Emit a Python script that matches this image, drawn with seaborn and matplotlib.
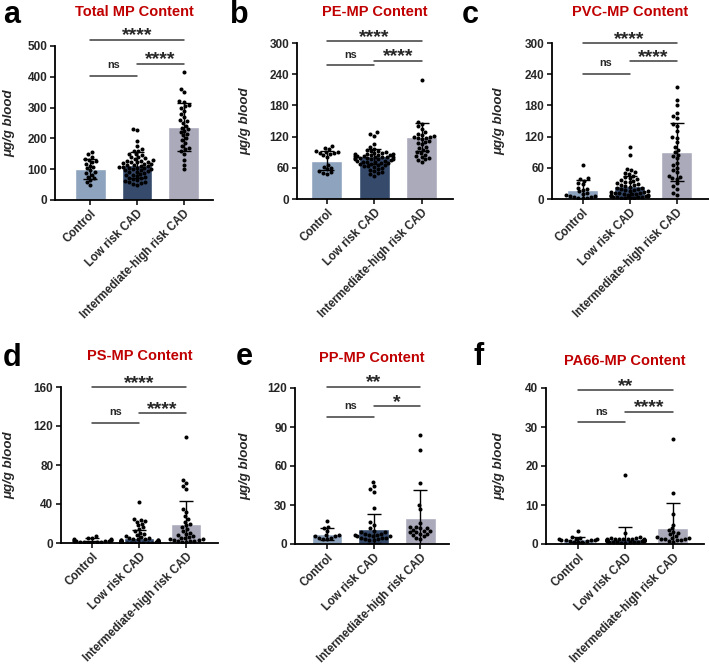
import pandas as pd
import seaborn as sns
import matplotlib.pyplot as plt

# groups and colours
groups = ["Control", "Low risk CAD", "Intermediate-high risk CAD"]
bar_colors = ["#8ea4be", "#364b6c", "#aaaabb"]

titles = ["Total MP Content", "PE-MP Content", "PVC-MP Content",
          "PS-MP Content", "PP-MP Content", "PA66-MP Content"]
letters = ["a", "b", "c", "d", "e", "f"]

# bar heights (mean) and error bars (SD)
means = [[100, 114, 237], [74, 82, 119], [18, 24.5, 90],
         [3.4, 5, 19], [7.4, 11.8, 20], [1.2, 1.2, 4.2]]
sds = [[33, 43, 77], [19, 15, 27], [19, 20.5, 56],
       [1.6, 8, 24], [4.6, 11.2, 21.8], [0.7, 3.2, 6.4]]

# individual points
a_ctrl = [155, 148, 140, 132, 130, 127, 122, 118, 112, 107, 103, 98, 92, 88, 82, 76, 70, 65, 57, 50]
a_low = [230, 228, 190, 175, 165, 160, 158, 150, 148, 145, 140, 138, 135, 132, 130, 128, 127, 125,
         124, 122, 120, 118, 117, 115, 114, 112, 110, 108, 107, 105, 104, 103, 102, 100, 98, 96, 95,
         92, 90, 88, 85, 82, 80, 78, 75, 72, 70, 68, 65, 62, 60, 58, 55, 52, 50]
a_int = [415, 360, 350, 320, 318, 310, 305, 300, 290, 280, 270, 260, 255, 250, 240, 235, 230, 225,
         220, 215, 210, 200, 195, 185, 175, 170, 165, 160, 150, 130, 115, 100]

b_ctrl = [101, 98, 96, 93, 91, 90, 89, 88, 86, 84, 80, 65, 62, 60, 57, 53, 51, 50, 49]
b_low = [128, 125, 122, 105, 100, 97, 95, 93, 92, 90, 89, 88, 87, 86, 86, 85, 85, 84, 83, 82, 82,
         81, 81, 80, 80, 79, 78, 78, 77, 77, 76, 76, 75, 74, 73, 72, 72, 71, 70, 69, 68, 67, 66, 65,
         64, 63, 62, 60, 58, 56, 54, 52, 50, 48, 45]
b_int = [228, 148, 145, 140, 135, 128, 125, 123, 121, 120, 119, 118, 117, 115, 112, 110, 108, 105,
         100, 98, 95, 92, 90, 88, 85, 82, 80, 78, 76, 75, 72]

c_ctrl = [65, 40, 38, 35, 30, 28, 22, 20, 18, 15, 12, 10, 8, 6, 5, 4, 3, 2, 2, 1]
c_low = [100, 85, 58, 55, 52, 50, 48, 45, 42, 40, 38, 36, 35, 33, 32, 30, 28, 27, 26, 25, 24, 22,
         21, 20, 19, 18, 17, 16, 15, 14, 13, 12, 12, 11, 10, 10, 9, 8, 8, 7, 6, 6, 5, 5, 4, 4, 3, 3,
         2, 2, 1, 1]
c_int = [215, 190, 180, 165, 160, 155, 145, 140, 130, 120, 118, 110, 100, 95, 90, 85, 82, 78, 70,
         65, 60, 55, 52, 45, 42, 40, 38, 30, 25, 20, 12, 8]

d_ctrl = [7, 5, 5, 4, 4, 3, 3, 3, 2, 2, 2, 2, 1, 1, 1, 1, 0.5, 0.5]
d_low = [42, 25, 24, 23, 22, 20, 18, 16, 14, 12, 10, 9, 8, 7, 6, 5, 5, 4, 4, 4, 3, 3, 3, 3, 2, 2,
         2, 2, 2, 2, 1.5, 1.5, 1.5, 1.5, 1, 1, 1, 1, 1, 1, 1, 0.8, 0.8, 0.8, 0.6, 0.6, 0.6, 0.5,
         0.5, 0.4, 0.4, 0.3, 0.3, 0.2, 0.2]
d_int = [109, 65, 62, 58, 55, 35, 32, 28, 25, 22, 20, 18, 16, 14, 12, 10, 9, 8, 7, 6, 5, 5, 4, 4,
         3, 3, 2, 2, 2, 1, 1]

e_ctrl = [18, 13, 12, 10, 7, 7, 6, 6, 5, 5, 4, 4]
e_low = [48, 45, 42, 40, 28, 17, 15, 12, 10, 9, 9, 8, 8, 7, 7, 7, 6, 6, 6, 5, 5, 5, 4, 4, 3, 3]
e_int = [84, 72, 47, 30, 27, 16, 13, 13, 12, 12, 11, 10, 10, 9, 9, 8, 8, 7, 6, 5, 4]

f_ctrl = [3.3, 1.8, 1.5, 1.4, 1.3, 1.2, 1.1, 1.0, 1.0, 0.9, 0.8, 0.7, 0.6, 0.5, 0.5]
f_low = [17.6, 2.7, 1.8, 1.6, 1.5, 1.4, 1.4, 1.3, 1.3, 1.2, 1.2, 1.2, 1.1, 1.1, 1.1, 1.0, 1.0, 1.0,
         1.0, 0.9, 0.9, 0.9, 0.8, 0.8, 0.8, 0.7, 0.7, 0.6, 0.6, 0.5, 0.5, 0.4, 0.4, 0.3, 0.3]
f_int = [27, 13, 7.8, 5.0, 4.0, 3.5, 3.0, 2.8, 2.5, 2.0, 1.8, 1.6, 1.5, 1.4, 1.3, 1.2, 1.1, 1.0, 0.8, 0.6]

points = [[a_ctrl, a_low, a_int], [b_ctrl, b_low, b_int], [c_ctrl, c_low, c_int],
          [d_ctrl, d_low, d_int], [e_ctrl, e_low, e_int], [f_ctrl, f_low, f_int]]

yticks = [range(0, 501, 100), range(0, 301, 60), range(0, 301, 60),
          range(0, 161, 40), range(0, 121, 30), range(0, 41, 10)]

# significance brackets: (top, low-vs-high, control-vs-low)
bracket_y = [[520, 443, 403], [303, 266, 257], [300, 265, 241],
             [160, 133, 123], [121, 106, 98], [39.5, 33.9, 31.2]]
bracket_txt = [["****", "****", "ns"], ["****", "****", "ns"], ["****", "****", "ns"],
               ["****", "****", "ns"], ["**", "*", "ns"], ["**", "****", "ns"]]

sns.set_theme(style="ticks")
plt.rcParams["font.family"] = ["Liberation Sans", "DejaVu Sans"]
plt.rcParams["font.weight"] = "bold"

W, H = 709, 670
fig = plt.figure(figsize=(W / 100, H / 100), dpi=100)

# axes boxes in pixels: left, right, top, bottom
boxes = [(55, 213, 46, 200), (297, 453, 43, 199), (552, 709, 43, 199),
         (61, 218, 387, 543), (295, 449, 388, 544), (546, 704, 388, 544)]
xlims = [(-0.76, 2.63), (-0.63, 2.66), (-0.65, 2.69),
         (-0.67, 2.68), (-0.68, 2.61), (-0.68, 2.66)]
ylab_off = [40, 46, 47, 46, 44, 41]
letter_pos = [(3, 23), (230, 23), (462, 23), (3, 366), (236, 365), (474, 365)]
title_base = [15.7, 15.7, 15.7, 360, 362, 365]

for i in range(6):
    l, r, t, b = boxes[i]
    ax = fig.add_axes([l / W, 1 - b / H, (r - l) / W, (b - t) / H])

    df_bar = pd.DataFrame({"group": groups, "mean": means[i]})
    sns.barplot(data=df_bar, x="group", y="mean", hue="group", order=groups,
                palette=bar_colors, width=0.65, errorbar=None, legend=False,
                saturation=1, ax=ax)

    rows = []
    for g, vals in zip(groups, points[i]):
        for v in vals:
            rows.append({"group": g, "value": v})
    df_pts = pd.DataFrame(rows)
    sns.swarmplot(data=df_pts, x="group", y="value", order=groups, color="black",
                  size=2.9, ax=ax, warn_thresh=1)

    ax.errorbar([0, 1, 2], means[i], yerr=sds[i], fmt="none", ecolor="black",
                elinewidth=1, capsize=5.2, capthick=1, zorder=5)

    ax.set_xlim(*xlims[i])
    ax.set_ylim(0, max(yticks[i]))
    ax.set_yticks(list(yticks[i]))
    ax.set_xlabel("")
    ax.set_ylabel("μg/g blood", fontsize=9.5, fontweight="bold", fontstyle="italic")
    ax.yaxis.set_label_coords(-ylab_off[i] / (r - l), 0.5)
    ax.set_xticks([0, 1, 2])
    ax.set_xticklabels(groups, rotation=45, ha="right", va="top",
                       rotation_mode="anchor", fontsize=8.3, fontweight="bold")
    for lab in ax.get_yticklabels():
        lab.set_fontsize(8.5)
        lab.set_fontweight("bold")
    ax.tick_params(axis="both", length=3.5, width=1.1, color="black", pad=2)
    sns.despine(ax=ax)
    for sp in ["left", "bottom"]:
        ax.spines[sp].set_linewidth(1.3)
        ax.spines[sp].set_color("black")

    # brackets
    top, short, ns = bracket_y[i]
    t_top, t_short, t_ns = bracket_txt[i]
    lines = [(0, 2, top, t_top), (1, 2, short, t_short), (0, 1, ns, t_ns)]
    for x0, x1, yv, txt in lines:
        ax.plot([x0, x1], [yv, yv], color="#3c3c3c", lw=1.1, clip_on=False)
        if txt == "ns":
            ax.annotate(txt, ((x0 + x1) / 2, yv), xytext=(0, 5.5), textcoords="offset points",
                        ha="center", va="baseline", fontsize=7.8, fontweight="bold",
                        annotation_clip=False)
        else:
            ax.annotate(txt, ((x0 + x1) / 2, yv), xytext=(0, -0.5), textcoords="offset points",
                        ha="center", va="baseline", fontsize=14, fontweight="bold",
                        annotation_clip=False)

    fig.text((l + r) / 2 / W, 1 - title_base[i] / H, titles[i], ha="center", va="baseline",
             fontsize=10.5, fontweight="bold", color="#c00000")
    lx, ly = letter_pos[i]
    fig.text(lx / W, 1 - ly / H, letters[i], ha="left", va="baseline",
             fontsize=22, fontweight="bold", color="black")

fig.savefig("out.png", dpi=100)
